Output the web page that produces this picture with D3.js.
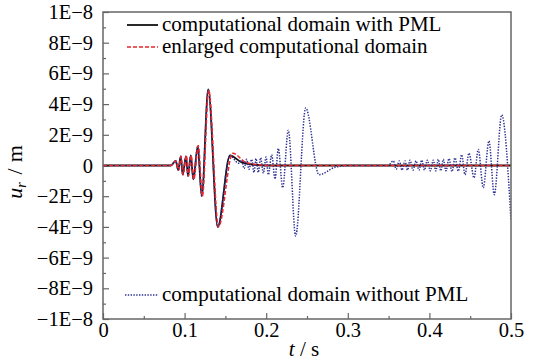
<!DOCTYPE html>
<html>
<head>
<meta charset="utf-8">
<script src="https://cdn.jsdelivr.net/npm/d3@7"></script>
<style>
  body { margin: 0; background: #fff; }
  svg { display: block; }
</style>
</head>
<body>
<div id="chart"></div>
<script>
'use strict'

// values, u in units of 1E-9 m
let pmlT = [0, 0.083, 0.0891, 0.0923, 0.0952, 0.0977, 0.1017, 0.1042, 0.1075, 0.1107, 0.1161, 0.1210, 0.1290, 0.1406, 0.1556, 0.170, 0.185, 0.200, 0.5]
let pmlU = [0, 0, 0.3, -0.3, 0.6, -0.6, 0.6, -0.7, 0.65, -0.9, 1.25, -2.0, 4.95, -4.0, 0.65, 0.2, 0.05, 0, 0]

let enlT = [0, 0.083, 0.0895, 0.0927, 0.0957, 0.0982, 0.1022, 0.1047, 0.1081, 0.1113, 0.1168, 0.1218, 0.1295, 0.1415, 0.1590, 0.175, 0.190, 0.205, 0.5]
let enlU = [0, 0, 0.3, -0.3, 0.6, -0.6, 0.65, -0.7, 0.65, -0.9, 1.3, -2.0, 4.9, -4.0, 0.8, 0.2, 0.05, 0, 0]

// without PML: same pulse as the PML curve up to t = 0.1556, then the reflections
let pulseEnd = 0.1556
let reflT = [0.1660, 0.1700, 0.1728, 0.1761, 0.1789, 0.1822, 0.1850, 0.1875, 0.1903, 0.1932, 0.1965, 0.1998, 0.2026, 0.2067, 0.2108, 0.2149, 0.2202, 0.2271, 0.2361, 0.2484, 0.2647, 0.285, 0.300, 0.3493,
  0.3558, 0.3594, 0.3631, 0.3664, 0.3701, 0.3732, 0.3762, 0.3799, 0.3836, 0.3873, 0.3906, 0.3940, 0.3974, 0.4011, 0.4048, 0.4078, 0.4109, 0.4140, 0.4170, 0.4203, 0.4240, 0.4277, 0.4314, 0.4354, 0.4396, 0.4436, 0.4485, 0.4547, 0.4599, 0.4660, 0.4730, 0.4795, 0.4886, 0.5]
let reflU = [0.15, 0.35, -0.2, 0.4, -0.25, 0.4, -0.45, 0.45, -0.45, 0.5, -0.5, 0.55, -0.6, 0.7, -0.87, 1.1, -1.45, 2.3, -4.6, 3.75, -0.6, -0.1, 0, 0,
  0.3, -0.25, 0.3, -0.3, 0.3, -0.3, 0.35, -0.3, 0.3, -0.3, 0.35, -0.3, 0.35, -0.35, 0.35, -0.35, 0.4, -0.35, 0.4, -0.35, 0.45, -0.4, 0.5, -0.37, 0.7, -0.6, 0.8, -0.8, 1.05, -1.45, 1.6, -1.9, 3.3, -3.6]

let xTicks = [0, 0.1, 0.2, 0.3, 0.4, 0.5]
let xTickLabels = ["0", "0.1", "0.2", "0.3", "0.4", "0.5"]
let xMinor = [0.05, 0.15, 0.25, 0.35, 0.45]
let yTicks = [-10, -8, -6, -4, -2, 0, 2, 4, 6, 8, 10]
let yTickLabels = ["\u22121E\u22128", "\u22128E\u22129", "\u22126E\u22129", "\u22124E\u22129", "\u22122E\u22129", "0",
  "2E\u22129", "4E\u22129", "6E\u22129", "8E\u22129", "1E\u22128"]
let yMinor = [-9, -7, -5, -3, -1, 1, 3, 5, 7, 9]

let legendLabels = ["computational domain with PML", "enlarged computational domain", "computational domain without PML"]

/*
 setup
*/
let width = 533
let height = 362
let margin = { left: 103, right: 511, top: 12, bottom: 319 }
let frameColor = "#666"
let serif = "'Liberation Serif', 'DejaVu Serif', serif"

let xscale = d3.scaleLinear().domain([0, 0.5]).range([margin.left, margin.right])
let yscale = d3.scaleLinear().domain([-10, 10]).range([margin.bottom, margin.top])

function zip(ts, us) {
  return ts.map((t, i) => [t, us[i]])
}

let cut = pmlT.findIndex(t => t >= pulseEnd)
let noPml = zip(pmlT.slice(0, cut + 1), pmlU.slice(0, cut + 1)).concat(zip(reflT, reflU))

let series = [
  { label: legendLabels[0], data: zip(pmlT, pmlU), color: "#111", dash: null, w: 1.8 },
  { label: legendLabels[2], data: noPml, color: "#2e3192", dash: "1.4,1.4", w: 1.5 },
  { label: legendLabels[1], data: zip(enlT, enlU), color: "#e8262b", dash: "4,2", w: 1.5 }
]

let svg = d3.select("#chart").append("svg")
  .attr("width", width)
  .attr("height", height)
  .attr("font-family", serif)

svg.append("defs").append("clipPath").attr("id", "plotclip")
  .append("rect")
  .attr("x", margin.left).attr("y", margin.top)
  .attr("width", margin.right - margin.left).attr("height", margin.bottom - margin.top)

// axes, ticks pointing inward
svg.append("g")
  .attr("transform", "translate(0," + margin.bottom + ")")
  .call(d3.axisBottom(xscale).tickValues(xTicks).tickSize(-6).tickPadding(3)
    .tickFormat((d, i) => xTickLabels[i]))
svg.append("g")
  .attr("transform", "translate(0," + margin.bottom + ")")
  .call(d3.axisBottom(xscale).tickValues(xMinor).tickSize(-3).tickFormat(""))

svg.append("g")
  .attr("transform", "translate(" + margin.left + ",0)")
  .call(d3.axisLeft(yscale).tickValues(yTicks).tickSize(-6).tickPadding(10)
    .tickFormat((d, i) => yTickLabels[i]))
svg.append("g")
  .attr("transform", "translate(" + margin.left + ",0)")
  .call(d3.axisLeft(yscale).tickValues(yMinor).tickSize(-3).tickFormat(""))

svg.selectAll(".domain").remove()
svg.selectAll(".tick line").attr("stroke", frameColor).attr("stroke-width", 1.2)
svg.selectAll(".tick text").style("font-size", "20.5px").attr("fill", "#000")

// lines
let line = d3.line()
  .x(d => xscale(d[0]))
  .y(d => yscale(d[1]))
  .curve(d3.curveMonotoneX)

let plot = svg.append("g").attr("clip-path", "url(#plotclip)")
plot.selectAll("path")
  .data(series)
  .enter()
  .append("path")
  .attr("d", d => line(d.data))
  .attr("fill", "none")
  .attr("stroke", d => d.color)
  .attr("stroke-width", d => d.w)
  .attr("stroke-dasharray", d => d.dash)

// frame
svg.append("rect")
  .attr("x", margin.left).attr("y", margin.top)
  .attr("width", margin.right - margin.left).attr("height", margin.bottom - margin.top)
  .attr("fill", "none")
  .attr("stroke", frameColor)
  .attr("stroke-width", 1.5)

// legends
let legendPos = [
  { s: series[0], y: 25, x1: 127 },
  { s: series[2], y: 47, x1: 127 },
  { s: series[1], y: 295, x1: 125 }
]
let legend = svg.selectAll(".legend")
  .data(legendPos)
  .enter()
  .append("g")
  .attr("class", "legend")

legend.append("line")
  .attr("x1", d => d.x1).attr("x2", 158)
  .attr("y1", d => d.y).attr("y2", d => d.y)
  .attr("stroke", d => d.s.color)
  .attr("stroke-width", d => d.s.w)
  .attr("stroke-dasharray", d => d.s.dash)

legend.append("text")
  .attr("x", 162)
  .attr("y", d => d.y + 6)
  .style("font-size", "21px")
  .text(d => d.s.label)

// axis titles
let xt = svg.append("text")
  .attr("x", 304).attr("y", 356)
  .attr("text-anchor", "middle")
  .style("font-size", "21px")
xt.append("tspan").style("font-style", "italic").text("t")
xt.append("tspan").text(" / s")

let yt = svg.append("text")
  .attr("transform", "translate(22,172) rotate(-90)")
  .attr("text-anchor", "middle")
  .style("font-size", "22px")
yt.append("tspan").style("font-style", "italic").text("u")
yt.append("tspan").style("font-style", "italic").style("font-size", "14px").attr("dy", 4).text("r")
yt.append("tspan").attr("dy", -4).attr("dx", 8).text("/")
yt.append("tspan").attr("dx", 6).text("m")

// all text in a serif face, same as the original figure
svg.selectAll("text").style("font-family", serif).attr("fill", "#000")
</script>
</body>
</html>
